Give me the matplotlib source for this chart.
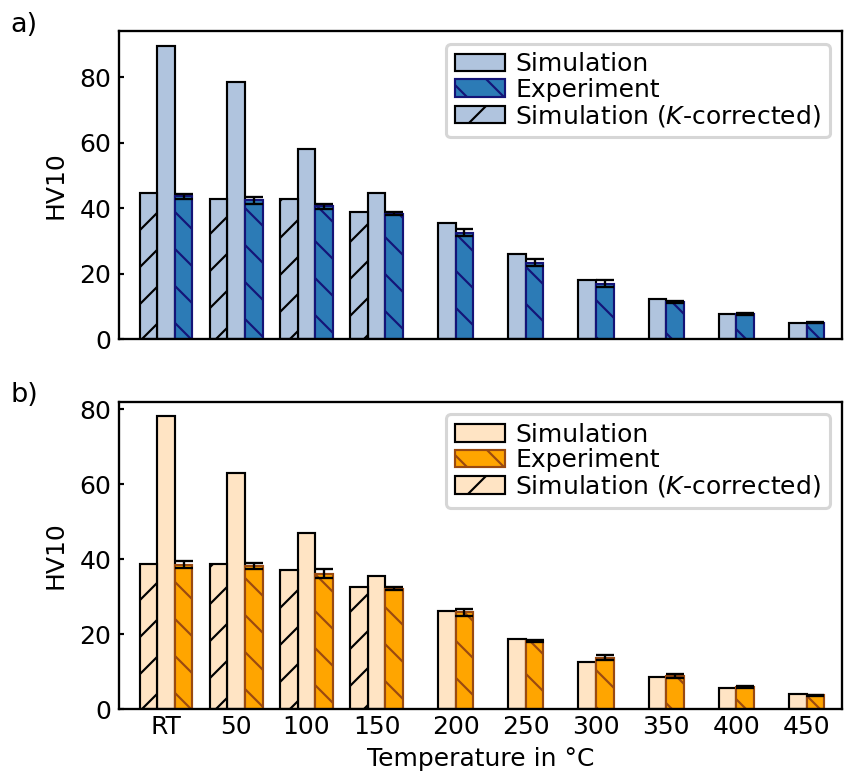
import numpy as np
import matplotlib
matplotlib.use("Agg")
import matplotlib.pyplot as plt

# hardness values read per temperature step
temps = ["RT", "50", "100", "150", "200", "250", "300", "350", "400", "450"]

sim_a = [89.6, 78.4, 58.0, 44.8, 35.5, 25.9, 18.2, 12.3, 7.7, 4.9]
exp_a = [43.7, 42.4, 40.6, 38.4, 32.6, 23.4, 17.0, 11.4, 7.7, 5.1]
err_a = [0.8, 1.0, 0.7, 0.5, 1.0, 1.1, 1.0, 0.4, 0.3, 0.1]
kcor_a = [44.8, 42.7, 42.7, 38.9]

sim_b = [78.2, 63.1, 46.9, 35.5, 26.2, 18.8, 12.6, 8.6, 5.7, 4.0]
exp_b = [38.5, 38.3, 36.2, 32.1, 25.9, 18.3, 13.8, 8.9, 5.9, 3.7]
err_b = [0.9, 0.8, 1.15, 0.4, 0.9, 0.3, 0.7, 0.6, 0.2, 0.2]
kcor_b = [38.8, 38.8, 37.1, 32.5]

DPI = 222
plt.rcParams["font.family"] = "DejaVu Sans"
plt.rcParams["font.size"] = 8.1
plt.rcParams["hatch.linewidth"] = 0.7
plt.rcParams["axes.linewidth"] = 0.75

fig = plt.figure(figsize=(849.01 / DPI, 774.01 / DPI), dpi=DPI)
ax_a = fig.add_axes([0.1402, 0.5616, 0.8516, 0.3983])
ax_b = fig.add_axes([0.1402, 0.0836, 0.8516, 0.3974])

w = 0.25
x = np.arange(len(temps))
nk = len(kcor_a)
centers = np.where(x < nk, x, x + w / 2)


def panel(ax, sim, exp, err, kcor, c_sim, c_exp, e_exp, ytop):
    ax.bar(x, sim, w, color=c_sim, edgecolor="black", linewidth=0.7,
           label="Simulation", zorder=2)
    ax.bar(x + w, exp, w, color=c_exp, edgecolor=e_exp, linewidth=0.7,
           hatch="\\\\", label="Experiment", zorder=2)
    ax.errorbar(x + w, exp, yerr=err, fmt="none", ecolor="black",
                elinewidth=0.75, capsize=2.8, capthick=0.75, zorder=3)
    ax.bar(x[:nk] - w, kcor, w, color=c_sim, edgecolor="black", linewidth=0.7,
           hatch="//", label="Simulation ($K$-corrected)", zorder=2)
    ax.set_xlim(-0.67, 9.63)
    ax.set_ylim(0, ytop)
    ax.set_xticks(centers)
    ax.set_yticks([0, 20, 40, 60, 80])
    ax.tick_params(direction="in", length=1.6, width=0.7)
    ax.tick_params(axis="x", length=1.0, pad=2.0)
    ax.tick_params(axis="y", pad=2.5)
    ax.set_ylabel("HV10")
    ax.legend(loc="upper right", fancybox=True, framealpha=0.8,
              borderpad=0.35, labelspacing=0.05, handlelength=2.0,
              handletextpad=0.4)


panel(ax_a, sim_a, exp_a, err_a, kcor_a, "lightsteelblue", "#2c7bb6", "#141478", 94.1)
panel(ax_b, sim_b, exp_b, err_b, kcor_b, "bisque", "orange", "#9a4a10", 82.0)

ax_a.set_xticklabels([])
ax_b.set_xticklabels(temps)
ax_b.set_xlabel("Temperature in °C", labelpad=2.5)

fig.text(0.012, 0.985, "a)", ha="left", va="top", fontsize=8.8)
fig.text(0.012, 0.507, "b)", ha="left", va="top", fontsize=8.8)

fig.savefig("out.png", dpi=DPI)
